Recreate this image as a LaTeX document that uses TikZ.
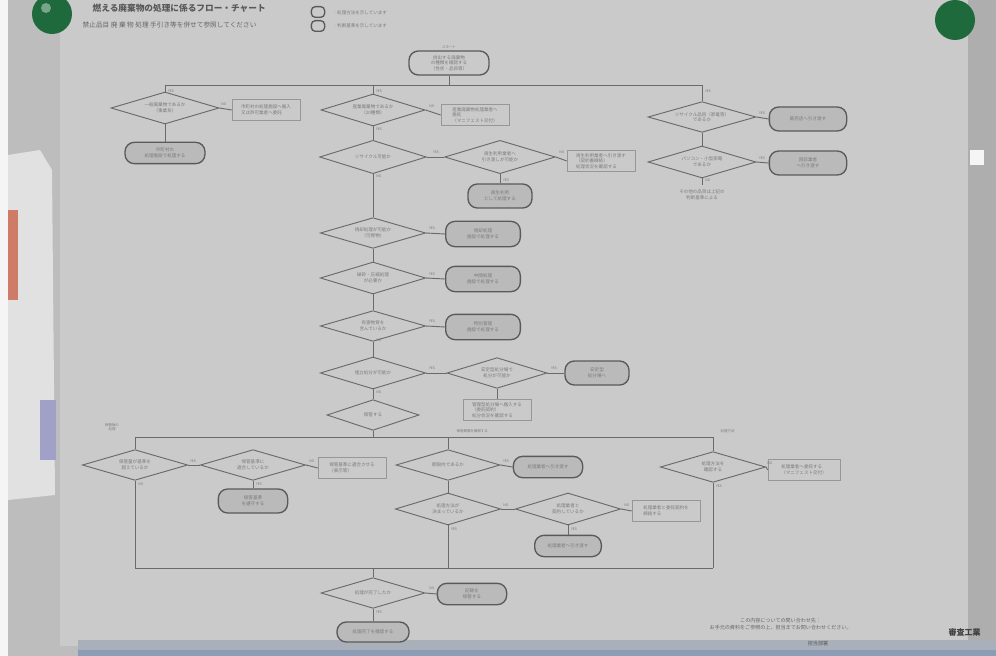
\documentclass[tikz,border=0pt]{standalone}
\usepackage{fontspec}
\newfontfamily\jp{Noto Sans CJK JP}
\usetikzlibrary{shapes.geometric,calc}
\definecolor{wall}{HTML}{BDBDBD}
\definecolor{paper}{HTML}{CACACA}
\definecolor{ink}{HTML}{6A6A6A}
\definecolor{txt}{HTML}{7A7A7A}
\definecolor{stfill}{HTML}{BABABA}
\definecolor{pincol}{HTML}{1E6A3C}
\definecolor{stripcol}{HTML}{8A9DB4}
\begin{document}
\begin{tikzpicture}[x=0.75pt,y=-0.75pt,
  every node/.style={font=\jp\fontsize{3.4}{4.2}\selectfont, text=txt, align=center},
  dia/.style={diamond, aspect=3.3, draw=ink, line width=0.7pt, inner sep=0pt, minimum width=79pt, minimum height=24pt},
  stad/.style={rectangle, rounded corners=7pt, draw=ink!85!black, line width=1pt, fill=stfill, inner sep=1pt, minimum width=56pt, minimum height=18pt},
  tbox/.style={rectangle, draw=ink!70, line width=0.4pt, inner sep=1pt, minimum width=51pt, minimum height=16pt, align=left},
  conn/.style={draw=ink, line width=0.7pt},
  lbl/.style={font=\jp\fontsize{2.6}{3}\selectfont, text=txt}]
\useasboundingbox (0,0) rectangle (996,656);
\clip (0,0) rectangle (996,656);
% background
\fill[wall] (0,0) rectangle (996,656);
\fill[paper] (60,0) rectangle (968,646);
\fill[white!85!wall] (0,0) rectangle (8,656);
% left plastic sleeve
\fill[white!55!wall] (8,155) -- (40,150) -- (52,170) -- (55,495) -- (8,500) -- cycle;
\fill[red!45!brown!55!wall] (8,210) rectangle (18,300);
\fill[blue!15!wall] (40,400) rectangle (56,460);
% right strip
\fill[wall!92!black] (968,0) rectangle (996,656);
\fill[white!85!wall] (970,150) rectangle (984,165);
% bottom blue strip
\fill[stripcol!40!wall] (78,640) rectangle (996,650);
\fill[stripcol] (78,650) rectangle (996,656);
% pins
\fill[pincol] (52,14) circle (20);
\fill[pincol!60!white] (46,8) circle (5);
\fill[pincol] (955,20) circle (20);

% title and legend
\node[font=\jp\bfseries\fontsize{6.5}{7}\selectfont, text=black!65, anchor=west] (title1) at (88,8) {燃える廃棄物の処理に係るフロー・チャート};
\node[font=\jp\fontsize{5}{6}\selectfont, text=black!60, anchor=west] (title2) at (78,25) {禁止品目 廃 棄 物 処理 手引き等を併せて参照してください};
\node[stad, minimum width=10pt, minimum height=8pt, rounded corners=3pt, fill=paper] (lg1) at (318,12) {};
\node[stad, minimum width=10pt, minimum height=8pt, rounded corners=3pt, fill=paper] (lg2) at (318,26) {};
\node[anchor=west] (lg1t) at (328,13) {：処理方法を示しています};
\node[anchor=west] (lg2t) at (328,26) {：判断基準を示しています};

% top part
\node[lbl] (startlbl) at (449,47) {スタート};
\node[stad, minimum width=60pt, minimum height=18pt, fill=paper] (start) at (449,63) {排出する廃棄物\\の種類を確認する\\（性状・品目等）};
\coordinate (b1l) at (165,85); \coordinate (b1m) at (373,85); \coordinate (b1c) at (449,85); \coordinate (b1r) at (702,85);
\node[dia, minimum width=81pt] (d1) at (165,108) {一般廃棄物であるか\\（事業系）};
\node[tbox] (t1) at (266,110) {市町村の処理施設へ搬入\\又は許可業者へ委託};
\node[stad, minimum width=60pt, minimum height=16pt] (s1) at (165,153) {市町村の\\処理施設で処理する};
\node[dia, minimum width=78pt] (d2) at (373,110) {産業廃棄物であるか\\（20種類）};
\node[tbox] (t2) at (475,115) {産業廃棄物処理業者へ\\委託\\（マニフェスト交付）};
\node[dia, minimum width=80pt, minimum height=25pt] (d3) at (373,157) {リサイクル可能か};
\node[dia, minimum width=83pt, minimum height=25pt] (d4) at (500,157) {再生利用業者へ\\引き渡しが可能か};
\node[tbox] (t4) at (601,161) {再生利用業者へ引き渡す\\（契約書締結）\\処理状況を確認する};
\node[stad, minimum width=48pt] (s4) at (500,196) {再生利用\\として処理する};
\node[dia, minimum height=23pt] (d5) at (373,233) {焼却処理が可能か\\（可燃物）};
\node[stad, minimum height=19pt] (s5) at (483,234) {焼却処理\\施設で処理する};
\node[dia] (d6) at (373,278) {破砕・圧縮処理\\が必要か};
\node[stad, minimum height=19pt] (s6) at (483,279) {中間処理\\施設で処理する};
\node[dia, minimum height=23pt] (d7) at (373,326) {有害物質を\\含んでいるか};
\node[stad, minimum height=19pt] (s7) at (483,327) {特別管理\\施設で処理する};
\node[dia] (d8) at (373,373) {埋立処分が可能か};
\node[dia, minimum width=75pt, minimum height=23pt] (d9) at (497,373) {安定型処分場で\\処分が可能か};
\node[stad, minimum width=48pt] (s9) at (597,373) {安定型\\処分場へ};
\node[tbox] (t9) at (497,410) {管理型処分場へ搬入する\\（委託契約）\\処分状況を確認する};
\node[dia, minimum width=69pt, minimum height=23pt] (d10) at (373,415) {保管する};
\node[dia, minimum width=81pt, minimum height=23pt] (d18) at (702,117) {リサイクル品目（家電等）\\であるか};
\node[stad, minimum width=58pt] (s19) at (808,119) {販売店へ引き渡す};
\node[dia, minimum width=81pt] (d19) at (702,162) {パソコン・小型家電\\であるか};
\node[stad, minimum width=58pt] (s20) at (808,163) {回収業者\\へ引き渡す};
\node[anchor=north] (n19) at (702,185) {その他の品目は上記の\\判断基準による};

% bottom part
\node[lbl, anchor=south] (b2lbl) at (112,435) {保管後の\\処理};
\coordinate (b2l) at (135,437); \coordinate (b2c) at (373,437); \coordinate (b2m) at (448,437); \coordinate (b2r) at (713,437);
\node[lbl, anchor=south west] (b2mlbl) at (452,437) {保管期間を確認する};
\node[lbl, anchor=south west] (b2rlbl) at (716,437) {処理方法};
\node[dia, minimum height=23pt] (d11) at (135,465) {保管量が基準を\\超えているか};
\node[dia, minimum height=23pt] (d12) at (253,465) {保管基準に\\適合しているか};
\node[tbox] (t12) at (352,468) {保管基準に適合させる\\（表示等）};
\node[stad, minimum width=52pt] (s12) at (253,501) {保管基準\\を遵守する};
\node[dia, minimum width=78pt, minimum height=23pt] (d13) at (448,465) {期限内であるか};
\node[stad, minimum width=52pt, minimum height=16pt] (s13) at (548,467) {処理業者へ引き渡す};
\node[dia, minimum height=24pt] (d14) at (448,509) {処理方法が\\決まっているか};
\node[dia, minimum height=24pt] (d15) at (568,509) {処理業者と\\契約しているか};
\node[tbox] (t15) at (666,511) {処理業者と委託契約を\\締結する};
\node[stad, minimum width=50pt, minimum height=16pt] (s15) at (568,546) {処理業者へ引き渡す};
\node[dia, minimum height=23pt] (d16) at (713,467) {処理方法を\\確認する};
\node[tbox, minimum width=54pt] (t16) at (804,470) {処理業者へ委託する\\（マニフェスト交付）};
\coordinate (b3l) at (135,568); \coordinate (b3c) at (373,568); \coordinate (b3m) at (448,568); \coordinate (b3r) at (713,568);
\node[dia, minimum width=78pt, minimum height=23pt] (d17) at (373,593) {処理が完了したか};
\node[stad, minimum width=52pt, minimum height=16pt] (s17) at (472,594) {記録を\\保管する};
\node[stad, minimum width=54pt, minimum height=15pt] (s18) at (373,632) {処理完了を確認する};

% notes
\node[anchor=west, font=\jp\fontsize{3.8}{5}\selectfont, text=black!60] (note1) at (705,624) {この内容についての問い合わせ先：\\お手元の資料をご参照の上、担当までお問い合わせください。};
\node[font=\jp\fontsize{3.8}{5}\selectfont, text=black!65] (note2) at (818,644) {担当部署};
\node[anchor=west, font=\jp\bfseries\fontsize{6}{7}\selectfont, text=black!75] (edge) at (944,632) {審査工業};

% connectors
\draw[conn] (start.south) -- (b1c);
\draw[conn] (b1l) -- (b1r);
\draw[conn] (b1l) -- (d1.north);
\draw[conn] (b1m) -- (d2.north);
\draw[conn] (b1r) -- (d18.north);
\draw[conn] (d1.east) -- (t1.west);
\draw[conn] (d1.south) -- (s1.north);
\draw[conn] (d2.east) -- (t2.west);
\draw[conn] (d2.south) -- (d3.north);
\draw[conn] (d3.east) -- (d4.west);
\draw[conn] (d4.east) -- (t4.west);
\draw[conn] (d4.south) -- (s4.north);
\draw[conn] (d3.south) -- (d5.north);
\draw[conn] (d5.east) -- (s5.west);
\draw[conn] (d5.south) -- (d6.north);
\draw[conn] (d6.east) -- (s6.west);
\draw[conn] (d6.south) -- (d7.north);
\draw[conn] (d7.east) -- (s7.west);
\draw[conn] (d7.south) -- (d8.north);
\draw[conn] (d8.east) -- (d9.west);
\draw[conn] (d9.east) -- (s9.west);
\draw[conn] (d9.south) -- (t9.north);
\draw[conn] (d8.south) -- (d10.north);
\draw[conn] (d10.south) -- (b2c);
\draw[conn] (d18.east) -- (s19.west);
\draw[conn] (d18.south) -- (d19.north);
\draw[conn] (d19.east) -- (s20.west);
\draw[conn] (d19.south) -- (n19.north);
\draw[conn] (b2l) -- (b2r);
\draw[conn] (b2l) -- (d11.north);
\draw[conn] (b2m) -- (d13.north);
\draw[conn] (b2r) -- (d16.north);
\draw[conn] (d11.east) -- (d12.west);
\draw[conn] (d12.east) -- (t12.west);
\draw[conn] (d12.south) -- (s12.north);
\draw[conn] (d13.east) -- (s13.west);
\draw[conn] (d13.south) -- (d14.north);
\draw[conn] (d14.east) -- (d15.west);
\draw[conn] (d15.east) -- (t15.west);
\draw[conn] (d15.south) -- (s15.north);
\draw[conn] (d16.east) -- (t16.west);
\draw[conn] (d11.south) -- (b3l);
\draw[conn] (d14.south) -- (b3m);
\draw[conn] (d16.south) -- (b3r);
\draw[conn] (b3l) -- (b3r);
\draw[conn] (b3c) -- (d17.north);
\draw[conn] (d17.east) -- (s17.west);
\draw[conn] (d17.south) -- (s18.north);

% branch labels
\node[lbl] (y1) at (171,91) {YES};
\node[lbl] (y2) at (379,91) {YES};
\node[lbl] (y3) at (708,91) {YES};
\node[lbl] (n1) at (224,104) {NO};
\node[lbl] (n2) at (432,106) {NO};
\node[lbl] (n3) at (436,152) {YES};
\node[lbl] (n4) at (562,152) {NO};
\node[lbl] (n5) at (506,180) {YES};
\node[lbl] (n6) at (379,129) {YES};
\node[lbl] (n7) at (379,176) {NO};
\node[lbl] (n8) at (432,228) {YES};
\node[lbl] (n9) at (432,274) {YES};
\node[lbl] (n10) at (432,321) {YES};
\node[lbl] (n11) at (379,340) {NO};
\node[lbl] (n12) at (432,368) {YES};
\node[lbl] (n13) at (554,368) {YES};
\node[lbl] (n14) at (379,392) {NO};
\node[lbl] (n15) at (762,113) {YES};
\node[lbl] (n16) at (762,158) {YES};
\node[lbl] (n17) at (708,180) {NO};
\node[lbl] (n18) at (141,484) {NO};
\node[lbl] (n19b) at (193,461) {YES};
\node[lbl] (n20) at (312,461) {NO};
\node[lbl] (n21) at (259,484) {YES};
\node[lbl] (n22) at (506,461) {YES};
\node[lbl] (n23) at (506,505) {NO};
\node[lbl] (n24) at (627,505) {NO};
\node[lbl] (n25) at (574,529) {YES};
\node[lbl] (n26) at (454,529) {YES};
\node[lbl] (n27) at (770,463) {NO};
\node[lbl] (n28) at (719,486) {YES};
\node[lbl] (n29) at (432,588) {NO};
\node[lbl] (n30) at (379,612) {YES};
\end{tikzpicture}
\end{document}
